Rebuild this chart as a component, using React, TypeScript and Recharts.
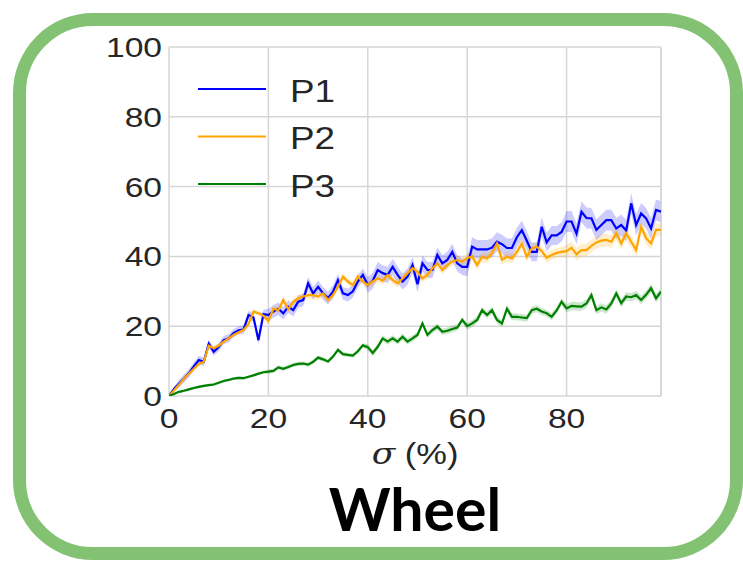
import React from 'react';
import {
  ComposedChart,
  Line,
  Area,
  XAxis,
  YAxis,
  CartesianGrid,
  ReferenceLine,
  Legend,
} from 'recharts';

// σ (%) sampled in steps of 1
const SIGMA = [
  0, 1, 2, 3, 4, 5, 6, 7, 8, 9, 10, 11, 12, 13, 14, 15, 16, 17, 18, 19,
  20, 21, 22, 23, 24, 25, 26, 27, 28, 29, 30, 31, 32, 33, 34, 35, 36, 37, 38, 39,
  40, 41, 42, 43, 44, 45, 46, 47, 48, 49, 50, 51, 52, 53, 54, 55, 56, 57, 58, 59,
  60, 61, 62, 63, 64, 65, 66, 67, 68, 69, 70, 71, 72, 73, 74, 75, 76, 77, 78, 79,
  80, 81, 82, 83, 84, 85, 86, 87, 88, 89, 90, 91, 92, 93, 94, 95, 96, 97, 98, 99,
];

const P1 = [
  0, 2, 3.5, 5, 6.5, 8.5, 10.3, 9.8, 15, 12.7,
  14, 16, 16.5, 18, 18.8, 19, 23.2, 22.5, 16, 23.5,
  23.2, 24.2, 25, 23.7, 25.6, 24.6, 27, 27.5, 32.3, 29.4,
  31.3, 29.4, 28, 29.9, 33.2, 29.4, 28.9, 30, 32.8, 34.7,
  31.8, 33, 36.1, 35.2, 34.7, 37, 34.7, 32.8, 34.2, 37.5,
  32, 38, 36.1, 36.1, 40.4, 38, 39, 41.3, 38, 37,
  37, 42.8, 42, 42, 42, 42.5, 44.2, 43.5, 42.4, 42.4,
  45.5, 47.5, 44.5, 41.3, 41.3, 48.5, 44, 46, 46, 47,
  50, 50, 46.5, 52.8, 51, 50.9, 47.6, 49, 50.4, 50.4,
  48, 49, 47.4, 55.2, 49, 52.3, 50.9, 48, 53.3, 52.8,
];

const P2 = [
  0, 1.6, 3.2, 5, 6.4, 7.8, 9.2, 9.8, 14.4, 13.7,
  14.4, 15.6, 16.5, 17.5, 18.3, 18.9, 20.6, 24.2, 23.7, 23,
  21.5, 25, 24.6, 27.5, 24.8, 27, 28, 28.5, 28.9, 28.9,
  28.5, 29.4, 27.5, 28.9, 31.3, 34.2, 32.8, 31.8, 34.2, 32.8,
  31.8, 32.8, 33.7, 33, 34.7, 33.2, 32.3, 33.7, 35.2, 36.6,
  35.6, 33.7, 34.7, 36.6, 38, 36.1, 37.5, 38.5, 39, 38.5,
  39.5, 40, 37.5, 39.9, 39.4, 41, 43.7, 39, 39.9, 39.4,
  41.3, 43.7, 39.9, 42.3, 42.8, 41.5, 39.6, 40.4, 41, 41.3,
  41.5, 42.5, 40.6, 41.8, 41.8, 43, 44, 44.5, 44.7, 44.2,
  46.6, 43.7, 46.6, 44.2, 41.8, 48.5, 45.2, 43.7, 47.6, 47.6,
];

const P3 = [
  0, 0.6, 1.2, 1.5, 1.9, 2.3, 2.6, 2.9, 3.1, 3.3,
  3.8, 4.3, 4.6, 5, 5.2, 5.1, 5.5, 5.9, 6.4, 6.8,
  7, 7.2, 8.2, 7.8, 8.3, 8.9, 9.2, 9.3, 9, 9.8,
  11, 10.5, 9.9, 11.3, 13.2, 12, 11.8, 11.6, 12.8, 14.5,
  14, 12.3, 14.1, 16.5, 15.6, 16.5, 15.6, 17, 15.6, 16.5,
  17.5, 20.8, 17.5, 18.9, 19.9, 18.4, 18.7, 19.2, 19.6, 21.8,
  20, 20.8, 21.8, 24.6, 23.2, 24.6, 21.8, 20.8, 25, 22.7,
  22.7, 22.5, 22.3, 24.6, 25, 24.2, 23.7, 22.7, 24.5, 27,
  25.1, 25.8, 25.7, 25.6, 26.5, 28.9, 24.6, 25.4, 24.8, 26.5,
  29.4, 26.6, 28.5, 28.3, 28.9, 27.5, 29, 30.9, 28, 29.9,
];

// Half-width of each shaded confidence band, per 20-point stretch of σ
const P1_SPREAD = [1.2, 1.8, 2.3, 2.7, 3.0];
const P2_SPREAD = [0.7, 1.0, 1.2, 1.4, 1.8];
const P3_SPREAD = [0.4, 0.6, 0.9, 1.0, 1.2];

const X_TICKS = [0, 20, 40, 60, 80];
const Y_TICKS = [0, 20, 40, 60, 80, 100];

const SERIES = [
  { key: 'p1', name: 'P1', color: '#0000ff', values: P1, spread: P1_SPREAD },
  { key: 'p2', name: 'P2', color: '#ffa500', values: P2, spread: P2_SPREAD },
  { key: 'p3', name: 'P3', color: '#008000', values: P3, spread: P3_SPREAD },
];

const data = SIGMA.map((s, i) => {
  const row: Record<string, any> = { sigma: s };
  SERIES.forEach((se) => {
    const v = se.values[i];
    const seg = Math.min(Math.floor(s / 20), se.spread.length - 1);
    const h = Math.min(se.spread[seg], v * 0.3);
    row[se.key] = v;
    row[se.key + 'Band'] = [v - h, v + h];
  });
  return row;
});

const TEXT = '#262626';
const GRID = '#d6d6d6';
const SANS = '"Liberation Sans", Arial, sans-serif';

const YTick = (props: any) => {
  const { x, y, payload } = props;
  return (
    <text
      transform={`translate(${x},${y + 10}) scale(1.2,1)`}
      textAnchor="end"
      fontFamily={SANS}
      fontSize={28}
      fill={TEXT}
    >
      {payload.value}
    </text>
  );
};

const XTick = (props: any) => {
  const { x, y, payload } = props;
  return (
    <text
      transform={`translate(${x},${y + 32}) scale(1.2,1)`}
      textAnchor="middle"
      fontFamily={SANS}
      fontSize={28}
      fill={TEXT}
    >
      {payload.value}
    </text>
  );
};

const AxisTitle = (props: any) => {
  const { viewBox } = props;
  const cx = viewBox.x + viewBox.width / 2;
  return (
    <text
      transform={`translate(${cx},${viewBox.y + 68}) scale(1.15,1)`}
      textAnchor="middle"
      fontFamily={SANS}
      fontSize={30}
      fill={TEXT}
    >
      <tspan fontFamily='"DejaVu Serif", serif' fontStyle="italic">σ</tspan>
      <tspan> (%)</tspan>
    </text>
  );
};

const LegendBox = () => (
  <svg width={200} height={140} style={{ overflow: 'visible' }}>
    {SERIES.map((s, i) => {
      const ly = 10 + i * 47.5;
      return (
        <g key={s.key}>
          <line x1={0} x2={68} y1={ly} y2={ly} stroke={s.color} strokeWidth={2} />
          <text
            transform={`translate(92,${ly + 12.5}) scale(1.15,1)`}
            fontFamily={SANS}
            fontSize={32}
            fill={TEXT}
          >
            {s.name}
          </text>
        </g>
      );
    })}
  </svg>
);

export default function App() {
  return (
    <div style={{ position: 'absolute', left: 0, top: 0, width: 743, height: 563, background: '#fff', overflow: 'hidden' }}>
      <div
        style={{
          position: 'absolute',
          left: 13,
          top: 13,
          width: 730,
          height: 547,
          boxSizing: 'border-box',
          border: '13px solid #83c273',
          borderRadius: 80,
        }}
      />
      <div style={{ position: 'absolute', left: 0, top: 0 }}>
        <ComposedChart
          width={743}
          height={563}
          data={data}
          margin={{ top: 47, right: 82, bottom: 137, left: 109 }}
        >
          <CartesianGrid stroke={GRID} strokeWidth={1.5} />
          <ReferenceLine x={99} stroke={GRID} strokeWidth={1.5} />
          <XAxis
            dataKey="sigma"
            type="number"
            domain={[0, 99]}
            ticks={X_TICKS}
            axisLine={false}
            tickLine={false}
            tickSize={0}
            tickMargin={0}
            height={30}
            tick={<XTick />}
            label={<AxisTitle />}
            allowDataOverflow
          />
          <YAxis
            type="number"
            domain={[0, 100]}
            ticks={Y_TICKS}
            axisLine={false}
            tickLine={false}
            tickSize={0}
            tickMargin={7}
            width={60}
            tick={<YTick />}
            allowDataOverflow
          />
          <Legend
            layout="horizontal"
            verticalAlign="middle"
            align="center"
            content={<LegendBox />}
            wrapperStyle={{ position: 'absolute', left: 198, top: 79, width: 200, height: 140 }}
          />
          {SERIES.map((s) => [
            <Area
              key={s.key + 'Band'}
              type="linear"
              dataKey={s.key + 'Band'}
              stroke="none"
              fill={s.color}
              fillOpacity={0.2}
              legendType="none"
              isAnimationActive={false}
              activeDot={false}
            />,
            <Line
              key={s.key}
              type="linear"
              dataKey={s.key}
              name={s.name}
              stroke={s.color}
              strokeWidth={2.2}
              dot={false}
              activeDot={false}
              isAnimationActive={false}
            />,
          ])}
        </ComposedChart>
      </div>
      <svg
        width={743}
        height={90}
        style={{ position: 'absolute', left: 0, top: 470 }}
      >
        <text
          x={415}
          y={61}
          textAnchor="middle"
          fontFamily="Lato, sans-serif"
          fontWeight={700}
          fontSize={59}
          fill="#000"
        >
          Wheel
        </text>
      </svg>
    </div>
  );
}
